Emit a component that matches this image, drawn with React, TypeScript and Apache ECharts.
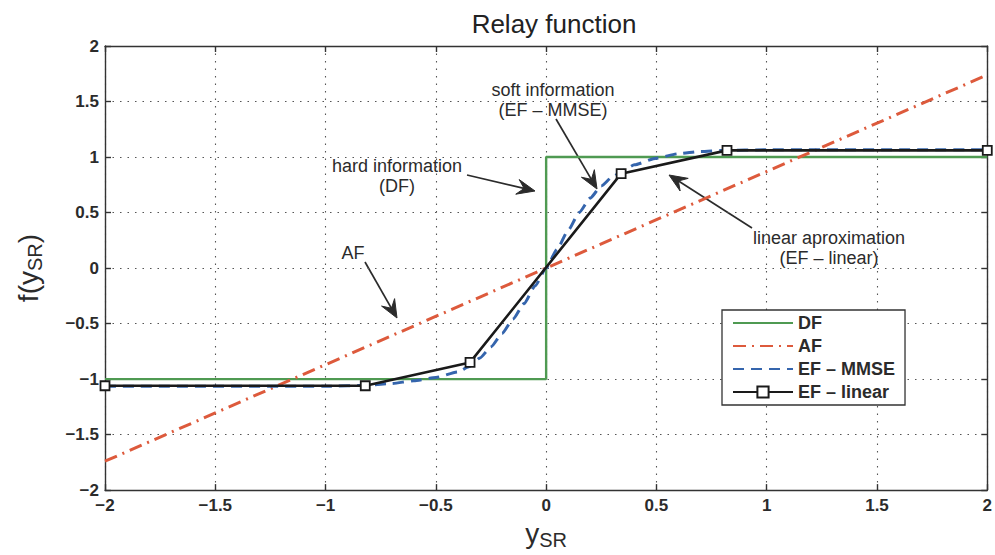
import React, { useEffect, useRef } from "react";
import * as echarts from "echarts";

// Relay mapping functions f(y_SR)
const dfX = [-2, 0, 0, 2];
const dfY = [-1, -1, 1, 1];

const afX = [-2, 2];
const afY = [-1.74, 1.74];

const mmseX = [-2, -1.0, -0.8, -0.7, -0.6, -0.5, -0.4, -0.35, -0.3, -0.25, -0.2, -0.15, -0.1, -0.05, 0, 0.05, 0.1, 0.15, 0.2, 0.25, 0.3, 0.35, 0.4, 0.5, 0.6, 0.7, 0.8, 1.0, 2];
const mmseY = [-1.065, -1.065, -1.055, -1.04, -1.015, -0.985, -0.935, -0.89, -0.81, -0.71, -0.59, -0.46, -0.32, -0.16, 0, 0.17, 0.34, 0.5, 0.63, 0.74, 0.82, 0.88, 0.93, 0.99, 1.03, 1.05, 1.06, 1.065, 1.065];

const linX = [-2, -0.82, -0.345, 0.34, 0.82, 2];
const linY = [-1.06, -1.06, -0.85, 0.85, 1.06, 1.06];

const FONT = "'Liberation Sans', Arial, Helvetica, sans-serif";
const INK = "#2b2b2b";

const pairs = (xs: number[], ys: number[]) => xs.map((x, i) => [x, ys[i]]);

// barbed arrow from (x1,y1) to tip (x2,y2)
function arrow(x1: number, y1: number, x2: number, y2: number) {
  const dx = x2 - x1;
  const dy = y2 - y1;
  const len = Math.hypot(dx, dy);
  const ux = dx / len;
  const uy = dy / len;
  const nx = -uy;
  const ny = ux;
  const L = 18;
  const W = 7.5;
  const bx = x2 - L * ux;
  const by = y2 - L * uy;
  return [
    {
      type: "line",
      shape: { x1, y1, x2: x2 - 8 * ux, y2: y2 - 8 * uy },
      style: { stroke: INK, lineWidth: 1.7 },
    },
    {
      type: "polygon",
      shape: {
        points: [
          [x2, y2],
          [bx + W * nx, by + W * ny],
          [x2 - 0.62 * L * ux, y2 - 0.62 * L * uy],
          [bx - W * nx, by - W * ny],
        ],
      },
      style: { fill: INK, stroke: INK, lineWidth: 1 },
    },
  ];
}

function label(text: string, x: number, y: number) {
  return {
    type: "text",
    x,
    y,
    style: {
      text,
      fill: INK,
      font: `18px ${FONT}`,
      align: "center",
      verticalAlign: "middle",
    },
  };
}

const minus = (v: number) => String(v).replace("-", "\u2212");

export default function App() {
  const ref = useRef<HTMLDivElement>(null);

  useEffect(() => {
    document.body.style.margin = "0";
    if (!ref.current) return;
    const chart = echarts.init(ref.current, undefined, { renderer: "svg" });

    const tickLabel = {
      color: INK,
      fontFamily: FONT,
      fontSize: 17,
      fontWeight: "bold" as const,
    };

    const baseAxis = {
      type: "value" as const,
      min: -2,
      max: 2,
      interval: 0.5,
      axisLine: { show: true, onZero: false, lineStyle: { color: "#333", width: 1.4 } },
      axisTick: { show: true, inside: true, length: 6, lineStyle: { color: "#333", width: 1.4 } },
    };

    const nameRich = {
      a: { fontFamily: FONT, fontSize: 28, color: INK },
      s: { fontFamily: FONT, fontSize: 20, color: INK, padding: [14, 0, 0, 0] },
    };

    const grid = { lineStyle: { color: "#555", width: 1.1, type: [1.5, 6] } };

    chart.setOption({
      animation: false,
      backgroundColor: "#ffffff",
      title: {
        text: "Relay function",
        left: 549,
        top: 6,
        textAlign: "center",
        textStyle: { fontFamily: FONT, fontSize: 26, fontWeight: "normal", color: "#222" },
      },
      grid: { left: 105, right: 2, top: 46, bottom: 57 },
      xAxis: [
        {
          ...baseAxis,
          position: "bottom",
          name: "{a|y}{s|SR}",
          nameLocation: "middle",
          nameGap: 23,
          nameTextStyle: { rich: nameRich },
          axisLabel: { ...tickLabel, margin: 7, formatter: minus },
          splitLine: { show: true, ...grid },
        },
        {
          ...baseAxis,
          position: "top",
          axisLabel: { show: false },
          splitLine: { show: false },
        },
      ],
      yAxis: [
        {
          ...baseAxis,
          position: "left",
          name: "{a|f(y}{s|SR}{a|)}",
          nameLocation: "middle",
          nameGap: 60,
          nameRotate: 90,
          nameTextStyle: { rich: nameRich },
          axisLabel: { ...tickLabel, margin: 6, formatter: minus },
          splitLine: { show: true, ...grid },
        },
        {
          ...baseAxis,
          position: "right",
          axisLabel: { show: false },
          splitLine: { show: false },
        },
      ],
      legend: {
        orient: "vertical",
        left: 722,
        top: 310,
        padding: [4, 10, 4, 10],
        itemGap: 5,
        itemWidth: 60,
        itemHeight: 14,
        backgroundColor: "#ffffff",
        borderColor: "#333",
        borderWidth: 1.3,
        borderRadius: 0,
        itemStyle: { opacity: 0 },
        textStyle: { fontFamily: FONT, fontSize: 18, color: INK, fontWeight: "bold" },
        data: [
          { name: "DF" },
          { name: "AF" },
          { name: "EF \u2013 MMSE" },
          { name: "EF \u2013 linear", itemStyle: { opacity: 1 } },
        ],
      },
      series: [
        {
          name: "DF",
          type: "line",
          data: pairs(dfX, dfY),
          symbol: "none",
          lineStyle: { color: "#4f9a52", width: 2.4 },
          itemStyle: { color: "#4f9a52" },
        },
        {
          name: "AF",
          type: "line",
          data: pairs(afX, afY),
          symbol: "none",
          lineStyle: { color: "#dd5a3c", width: 3, type: [13, 6, 2, 6] },
          itemStyle: { color: "#dd5a3c" },
        },
        {
          name: "EF \u2013 MMSE",
          type: "line",
          data: pairs(mmseX, mmseY),
          symbol: "none",
          smooth: 0.2,
          smoothMonotone: "x",
          lineStyle: { color: "#3565ad", width: 3, type: [11, 7] },
          itemStyle: { color: "#3565ad" },
        },
        {
          name: "EF \u2013 linear",
          type: "line",
          data: pairs(linX, linY),
          symbol: "rect",
          symbolSize: 9,
          showAllSymbol: true,
          lineStyle: { color: "#1a1a1a", width: 2.6 },
          itemStyle: { color: "#ffffff", borderColor: "#1a1a1a", borderWidth: 1.8 },
        },
      ],
      graphic: [
        label("soft information", 553, 90),
        label("(EF \u2013 MMSE)", 553, 110),
        ...arrow(556, 119, 597, 189),
        label("hard information", 397, 166),
        label("(DF)", 397, 186),
        ...arrow(467, 175, 535, 191),
        label("AF", 353, 253),
        ...arrow(365, 262, 397, 318),
        label("linear aproximation", 829, 238),
        label("(EF \u2013 linear)", 829, 258),
        ...arrow(752, 228, 669, 175),
      ],
    });

    return () => chart.dispose();
  }, []);

  return <div ref={ref} style={{ width: 995, height: 555 }} />;
}
